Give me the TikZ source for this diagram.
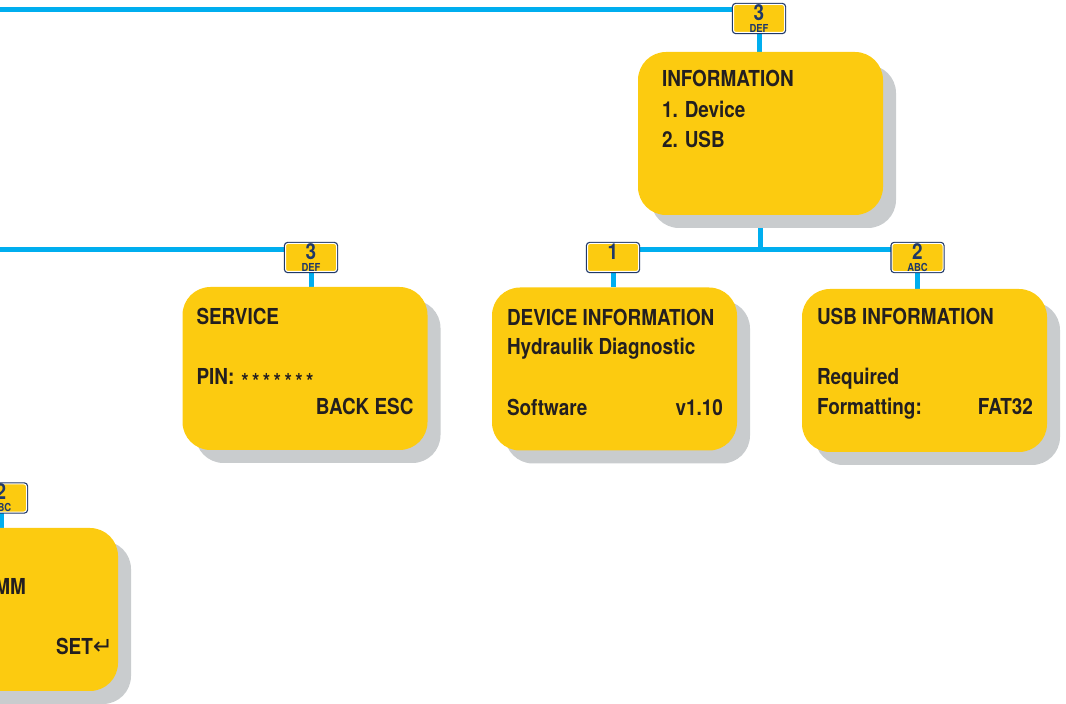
\documentclass[tikz,border=0pt]{standalone}
\usepackage{fontspec}
\setmainfont{TeX Gyre Heros}[FakeStretch=0.86]
\newfontfamily\arrowfont{DejaVu Sans}
\usetikzlibrary{positioning, calc, shadows, backgrounds}

\definecolor{menuyellow}{RGB}{252,203,16}
\definecolor{shadowgray}{RGB}{201,204,206}
\definecolor{linkblue}{RGB}{0,174,239}
\definecolor{keynavy}{RGB}{31,56,104}
\definecolor{textdark}{RGB}{35,31,32}

\newcommand{\keytxt}[2]{\fontsize{22}{11}\selectfont #1\\\fontsize{11}{11}\selectfont\vphantom{A}#2}
\newcommand{\pinstar}{\makebox[10.8pt]{\raisebox{-5pt}{*}}}

\tikzset{
	menubox/.style={rounded corners=28pt, fill=menuyellow,
		minimum width=245pt, minimum height=163pt,
		general shadow={fill=shadowgray, shadow xshift=13pt, shadow yshift=-13pt}},
	keybadge/.style={rounded corners=2.5pt, fill=menuyellow, draw=white, line width=1pt,
		preaction={draw=keynavy, line width=3.4pt},
		minimum width=51pt, minimum height=28pt, inner sep=0pt,
		align=center, text=keynavy, font=\bfseries},
	menutext/.style={text=textdark, inner sep=0pt,
		font=\fontsize{22}{22}\selectfont\bfseries},
	link/.style={draw=linkblue, line width=5pt},
}

\begin{document}
\begin{tikzpicture}[x=1pt, y=1pt]
	\path[use as bounding box, clip] (0,0) rectangle (1066,704);

	% menu screens
	\node[menubox] (info)    at (760.5,570.5) {};
	\node[menubox] (service) at (305,335.5) {};
	\node[menubox] (device)  at (614.5,335) {};
	\node[menubox] (usb)     at (924.5,333.5) {};
	\node[menubox] (setbox)  at (-4.5,94.5) {};

	% keys
	\node[keybadge] (k3top) at (759,685.5) {\keytxt{3}{DEF}};
	\node[keybadge] (k1)    at (613,446.5) {\keytxt{1}{}};
	\node[keybadge] (k2)    at (917.5,446.5) {\keytxt{2}{ABC}};
	\node[keybadge] (k3svc) at (311,446.5) {\keytxt{3}{DEF}};
	\node[keybadge] (k2low) at (1,206) {\keytxt{2}{ABC}};

	\coordinate (topstart) at (0,694.5);
	\coordinate (midstart) at (0,454.5);
	\coordinate (junc)     at (760.5,454.5);

	% connectors
	\begin{scope}[on background layer]
		\draw[link] (topstart) -- (topstart -| k3top.west);
		\draw[link] (k3top.south) -- (k3top.south |- info.north);
		\draw[link] (info.south) -- (junc);
		\draw[link] (junc -| k1.east) -- (junc -| k2.west);
		\draw[link] (midstart) -- (midstart -| k3svc.west);
		\draw[link] (k1.south) -- (k1.south |- device.north);
		\draw[link] (k2.south) -- (k2.south |- usb.north);
		\draw[link] (k3svc.south) -- (k3svc.south |- service.north);
		\draw[link] (k2low.south) -- (k2low.south |- setbox.north);
	\end{scope}

	% screen texts
	\node[menutext, anchor=base west] (infoA) at ($(info.north west)+(24,-35)$) {INFORMATION};
	\node[menutext, anchor=base west] (infoB) at ($(info.north west)+(24,-66)$) {1. Device};
	\node[menutext, anchor=base west] (infoC) at ($(info.north west)+(24,-96)$) {2. USB};

	\node[menutext, anchor=base west] (svcA) at ($(service.north west)+(14,-38)$) {SERVICE};
	\node[menutext, anchor=base west] (svcB) at ($(service.north west)+(14,-98)$) {PIN: \pinstar\pinstar\pinstar\pinstar\pinstar\pinstar\pinstar};
	\node[menutext, anchor=base east] (svcC) at ($(service.north east)+(-14,-128)$) {BACK ESC};

	\node[menutext, anchor=base west] (devA) at ($(device.north west)+(15,-38)$) {DEVICE INFORMATION};
	\node[menutext, anchor=base west] (devB) at ($(device.north west)+(15,-67)$) {Hydraulik Diagnostic};
	\node[menutext, anchor=base west] (devC) at ($(device.north west)+(15,-128)$) {Software};
	\node[menutext, anchor=base east] (devD) at ($(device.north east)+(-14,-128)$) {v1.10};

	\node[menutext, anchor=base west] (usbA) at ($(usb.north west)+(15,-36)$) {USB INFORMATION};
	\node[menutext, anchor=base west] (usbB) at ($(usb.north west)+(15,-96)$) {Required};
	\node[menutext, anchor=base west] (usbC) at ($(usb.north west)+(15,-126)$) {Formatting:};
	\node[menutext, anchor=base east] (usbD) at ($(usb.north east)+(-14,-126)$) {FAT32};

	\node[menutext, anchor=base east] (setA) at ($(setbox.north east)+(-92,-67)$) {MM};
	\node[menutext, anchor=base east] (setB) at ($(setbox.north east)+(-5,-127)$) {SET{\arrowfont\mdseries\fontsize{24}{24}\selectfont ↵}};
\end{tikzpicture}
\end{document}
